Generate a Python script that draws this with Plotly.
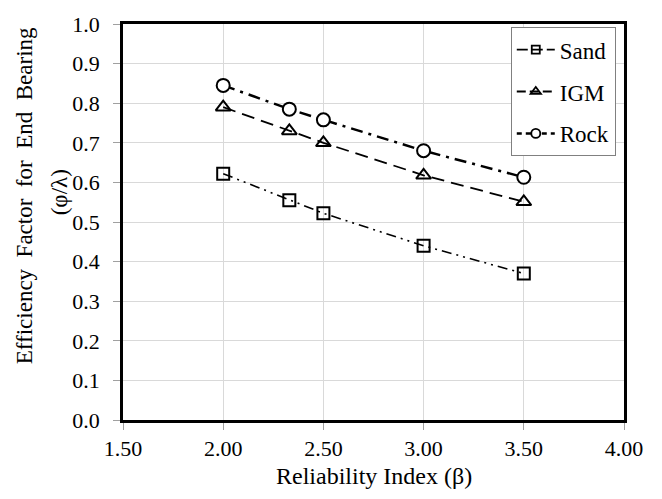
import plotly.graph_objects as go

beta = [2.00, 2.33, 2.50, 3.00, 3.50]
sand = [0.622, 0.555, 0.522, 0.440, 0.370]
igm = [0.790, 0.730, 0.700, 0.618, 0.551]
rock = [0.845, 0.785, 0.758, 0.680, 0.613]

series_names = ["Sand", "IGM", "Rock"]
x_ticks = [1.5, 2.0, 2.5, 3.0, 3.5, 4.0]
x_tick_labels = ["1.50", "2.00", "2.50", "3.00", "3.50", "4.00"]
y_ticks = [0.0, 0.1, 0.2, 0.3, 0.4, 0.5, 0.6, 0.7, 0.8, 0.9, 1.0]
y_tick_labels = ["0.0", "0.1", "0.2", "0.3", "0.4", "0.5", "0.6", "0.7", "0.8", "0.9", "1.0"]
x_title = "Reliability Index (β)"
y_title_1 = "Efficiency  Factor  for  End  Bearing"
y_title_2 = "(φ/λ)"

FONT = "Liberation Serif, Times New Roman, serif"

styles = [
    dict(dash="10px,5px,2px,5px,2px,5px", ldash="11px,4px", width=1.6,
         symbol="square-open", fill="black", size=12, lsize=8),
    dict(dash="13px,7px", ldash="9px,4px", width=1.8,
         symbol="triangle-up-open", fill="black", size=13, lsize=9),
    dict(dash="12px,6px,3px,6px", ldash="5px,4px,12px,4px", width=2.5,
         symbol="circle", fill="white", size=13, lsize=9),
]
values = [sand, igm, rock]

fig = go.Figure()
for name, vals, st in zip(series_names, values, styles):
    fig.add_trace(go.Scatter(
        x=beta, y=vals, name=name, mode="lines+markers", showlegend=False,
        line=dict(color="black", width=st["width"], dash=st["dash"]),
        marker=dict(symbol=st["symbol"], size=st["size"], color=st["fill"],
                    line=dict(width=2, color="black")),
    ))
for i, (name, st) in enumerate(zip(series_names, styles)):
    fig.add_trace(go.Scatter(
        x=[None], y=[None], name=name, mode="lines+markers", legendgroup=str(i),
        line=dict(color="black", width=st["width"], dash=st["ldash"]),
        marker=dict(symbol=st["symbol"], size=st["lsize"], color=st["fill"],
                    line=dict(width=1.8, color="black")),
    ))

fig.update_layout(
    width=662, height=499,
    margin=dict(l=123, r=38, t=17, b=79),
    paper_bgcolor="white", plot_bgcolor="white",
    font=dict(family=FONT, size=22, color="black"),
    showlegend=True,
    legend=dict(
        x=0.774, y=0.992, xanchor="left", yanchor="top",
        bgcolor="white", bordercolor="#808080", borderwidth=1,
        font=dict(family=FONT, size=23, color="black"),
        tracegroupgap=9, itemwidth=38,
    ),
    annotations=[
        dict(text=x_title, xref="paper", yref="paper", x=0.5, y=0, yshift=-56,
             xanchor="center", yanchor="middle", showarrow=False,
             font=dict(family=FONT, size=24, color="black")),
        dict(text=y_title_1, xref="paper", yref="paper", x=0, y=0.565, xshift=-99,
             xanchor="center", yanchor="middle", textangle=-90, showarrow=False,
             font=dict(family=FONT, size=23, color="black")),
        dict(text=y_title_2, xref="paper", yref="paper", x=0, y=0.575, xshift=-64,
             xanchor="center", yanchor="middle", textangle=-90, showarrow=False,
             font=dict(family=FONT, size=23, color="black")),
    ],
)
fig.update_xaxes(
    range=[1.5, 4.0], tickmode="array", tickvals=x_ticks, ticktext=x_tick_labels,
    showgrid=True, gridcolor="#d9d9d9", gridwidth=1,
    showline=True, linecolor="black", linewidth=2.5, mirror=True,
    ticks="outside", ticklen=7, tickcolor="#a0a0a0", zeroline=False,
)
fig.update_yaxes(
    range=[0.0, 1.0], tickmode="array", tickvals=y_ticks, ticktext=y_tick_labels,
    showgrid=True, gridcolor="#d9d9d9", gridwidth=1,
    showline=True, linecolor="black", linewidth=2.5, mirror=True,
    ticks="outside", ticklen=7, tickcolor="#a0a0a0", zeroline=False,
    ticklabelstandoff=9,
)

fig.write_html("out.html", config={"displayModeBar": False},
               post_script="document.body.style.margin='0';")
